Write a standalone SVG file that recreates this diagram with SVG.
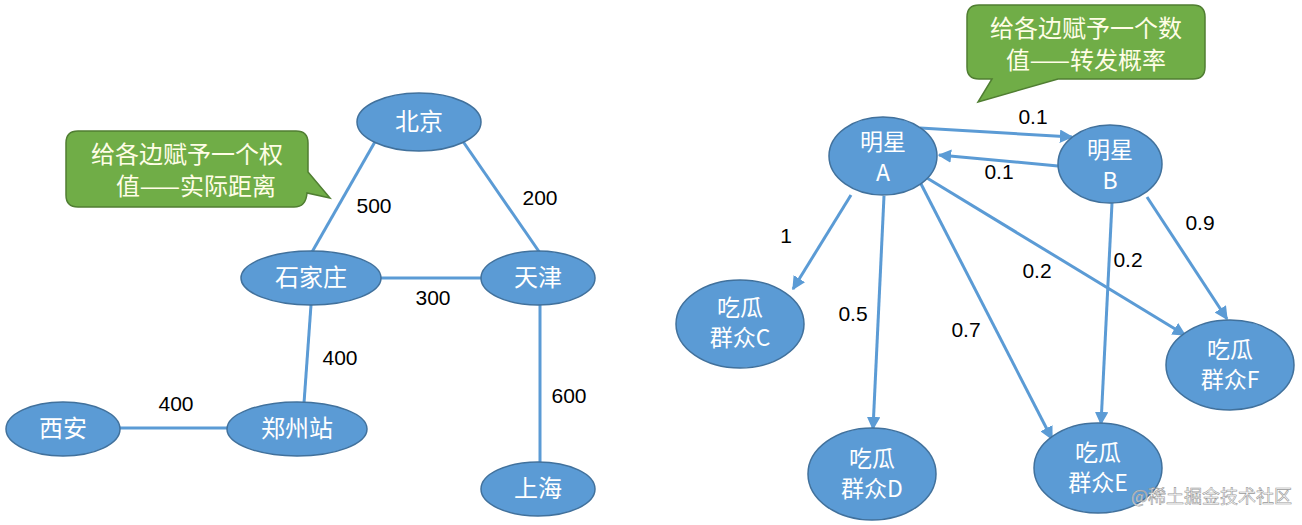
<svg xmlns="http://www.w3.org/2000/svg" width="1302" height="525" viewBox="0 0 1302 525">
<style>
.node{fill:#5B9BD5;stroke:#41719C;stroke-width:1.5}
.nt{fill:#fff;font-family:"Noto Sans CJK SC","Liberation Sans",sans-serif;font-size:23px;text-anchor:middle}
.nl{font-size:24px}
.edge{stroke:#5B9BD5;stroke-width:3;fill:none}
.arr{stroke:#5B9BD5;stroke-width:3;fill:none;marker-end:url(#ah)}
.lbl{fill:#000;font-family:"Liberation Sans","Noto Sans",sans-serif;font-size:21px;text-anchor:middle}
.call{fill:#70AD47;stroke:#507E32;stroke-width:1.5}
.ct{fill:#FFFDE6;font-family:"Noto Sans CJK SC",sans-serif;font-size:24px;text-anchor:middle}
</style>
<defs>
<marker id="ah" viewBox="0 0 10 10" refX="9" refY="5" markerWidth="4.5" markerHeight="4.5" orient="auto" markerUnits="strokeWidth">
<path d="M0,0 L10,5 L0,10 Z" fill="#5B9BD5"/>
</marker>
</defs>
<rect width="1302" height="525" fill="#fff"/>

<g id="connectors">
<line class="edge" x1="376" y1="140" x2="312" y2="252"/>
<line class="edge" x1="462" y1="140" x2="540" y2="253"/>
<line class="edge" x1="381" y1="278" x2="481" y2="278"/>
<line class="edge" x1="311" y1="305" x2="304" y2="403"/>
<line class="edge" x1="120" y1="428" x2="227" y2="428"/>
<line class="edge" x1="540" y1="305" x2="540" y2="462"/>
<line class="arr" x1="920" y1="128" x2="1072" y2="137"/>
<line class="arr" x1="1058" y1="166" x2="939" y2="155"/>
<line class="arr" x1="851" y1="195" x2="793" y2="289"/>
<line class="arr" x1="884" y1="196" x2="873" y2="429"/>
<line class="arr" x1="920" y1="182" x2="1052" y2="439"/>
<line class="arr" x1="927" y1="178" x2="1185" y2="335"/>
<line class="arr" x1="1112" y1="203" x2="1101" y2="424"/>
<line class="arr" x1="1147" y1="197" x2="1227" y2="319"/>
<text class="lbl" x="374" y="213">500</text>
<text class="lbl" x="540" y="205">200</text>
<text class="lbl" x="433" y="305">300</text>
<text class="lbl" x="340" y="365">400</text>
<text class="lbl" x="176" y="411">400</text>
<text class="lbl" x="569" y="403">600</text>
<text class="lbl" x="1033" y="124">0.1</text>
<text class="lbl" x="999" y="179">0.1</text>
<text class="lbl" x="786" y="243">1</text>
<text class="lbl" x="853" y="321">0.5</text>
<text class="lbl" x="966" y="337">0.7</text>
<text class="lbl" x="1037" y="278">0.2</text>
<text class="lbl" x="1128" y="267">0.2</text>
<text class="lbl" x="1200" y="230">0.9</text>
</g>

<g id="callout-left">
<path class="call" d="M78,131 H296 Q308,131 308,143 V172 L330,198 L307,193 Q306,207 294,207 H78 Q66,207 66,195 V143 Q66,131 78,131 Z"/>
<text class="ct" x="187" y="163">给各边赋予一个权</text>
<text class="ct" x="196" y="195">值——实际距离</text>
</g>
<g id="callout-right">
<path class="call" d="M979,5 H1193 Q1205,5 1205,17 V67 Q1205,79 1193,79 H1058 L978,102 L992,79 H979 Q967,79 967,67 V17 Q967,5 979,5 Z"/>
<text class="ct" x="1086" y="37">给各边赋予一个数</text>
<text class="ct" x="1086" y="69">值——转发概率</text>
</g>

<g id="n-beijing"><ellipse class="node" cx="419" cy="122" rx="62" ry="29"/><text class="nt nl" x="419" y="130">北京</text></g>
<g id="n-shijiazhuang"><ellipse class="node" cx="311" cy="278" rx="70" ry="27"/><text class="nt nl" x="311" y="286">石家庄</text></g>
<g id="n-tianjin"><ellipse class="node" cx="538" cy="278" rx="57" ry="27"/><text class="nt nl" x="538" y="286">天津</text></g>
<g id="n-xian"><ellipse class="node" cx="63" cy="429" rx="57" ry="27"/><text class="nt nl" x="63" y="437">西安</text></g>
<g id="n-zhengzhou"><ellipse class="node" cx="297" cy="429" rx="70" ry="27"/><text class="nt nl" x="297" y="437">郑州站</text></g>
<g id="n-shanghai"><ellipse class="node" cx="538" cy="489" rx="57" ry="27"/><text class="nt nl" x="538" y="497">上海</text></g>

<g id="n-A"><ellipse class="node" cx="883" cy="156" rx="54" ry="39"/><text class="nt" x="883" y="150">明星</text><text class="nt" x="883" y="181">A</text></g>
<g id="n-B"><ellipse class="node" cx="1110" cy="164" rx="52" ry="39"/><text class="nt" x="1110" y="158">明星</text><text class="nt" x="1110" y="189">B</text></g>
<g id="n-C"><ellipse class="node" cx="740" cy="324" rx="64" ry="44"/><text class="nt" x="740" y="316">吃瓜</text><text class="nt" x="740" y="346">群众C</text></g>
<g id="n-D"><ellipse class="node" cx="872" cy="474" rx="64" ry="46"/><text class="nt" x="872" y="467">吃瓜</text><text class="nt" x="872" y="497">群众D</text></g>
<g id="n-E"><ellipse class="node" cx="1098" cy="468" rx="64" ry="45"/><text class="nt" x="1098" y="461">吃瓜</text><text class="nt" x="1098" y="491">群众E</text></g>
<g id="n-F"><ellipse class="node" cx="1230" cy="365" rx="64" ry="45"/><text class="nt" x="1230" y="358">吃瓜</text><text class="nt" x="1230" y="388">群众F</text></g>

<text x="1292" y="503" font-family="Noto Sans CJK SC,sans-serif" font-size="18" fill="#ffffff" fill-opacity="0.75" stroke="#999" stroke-width="0.6" text-anchor="end">@稀土掘金技术社区</text>
</svg>
